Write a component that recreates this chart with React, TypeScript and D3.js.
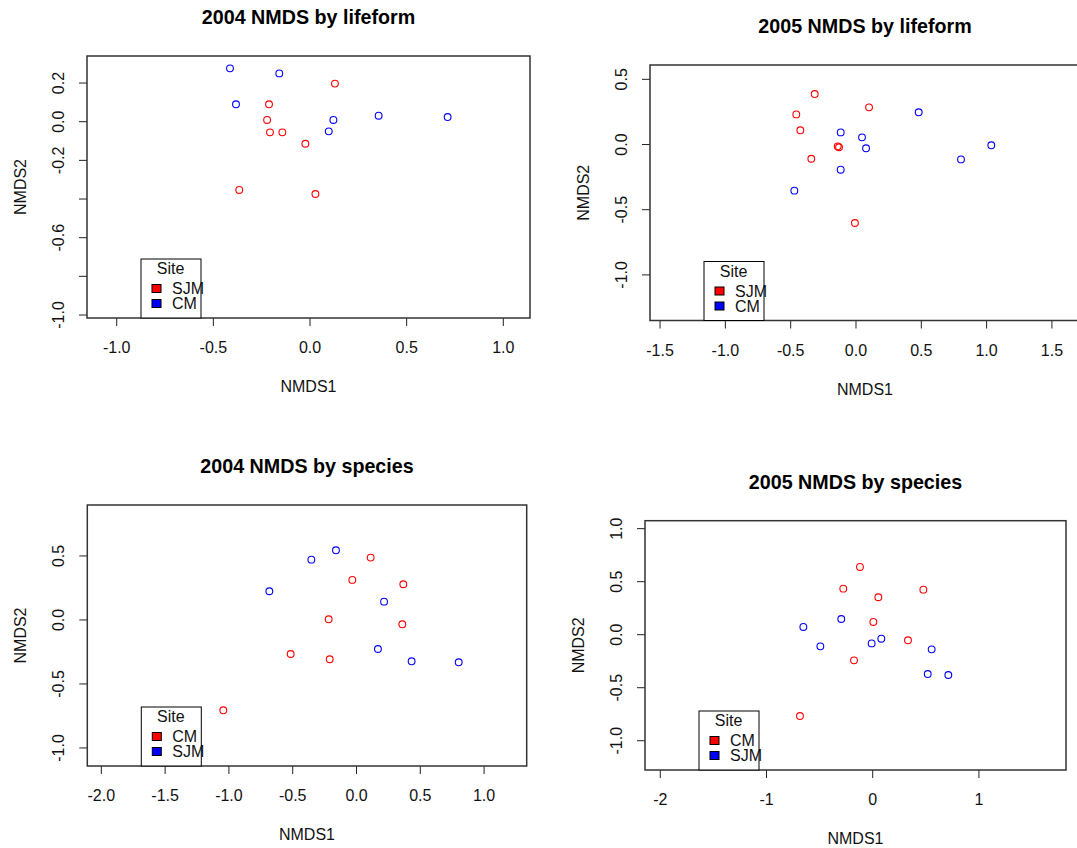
import React, { useEffect, useRef } from 'react';
import * as d3 from 'd3';

// NMDS scores, [NMDS1, NMDS2]
const lifeform2004SJM: [number, number][] = [
  [0.129, 0.197], [-0.212, 0.09], [-0.222, 0.009], [-0.207, -0.055],
  [-0.143, -0.055], [-0.024, -0.114], [-0.366, -0.353], [0.028, -0.374],
];
const lifeform2004CM: [number, number][] = [
  [-0.414, 0.276], [-0.159, 0.25], [-0.383, 0.09], [0.121, 0.009],
  [0.355, 0.031], [0.712, 0.024], [0.097, -0.05],
];
const lifeform2005SJM: [number, number][] = [
  [-0.316, 0.387], [-0.457, 0.231], [0.1, 0.285], [-0.426, 0.109],
  [-0.14, -0.014], [-0.13, -0.021], [-0.342, -0.109], [-0.008, -0.602],
];
const lifeform2005CM: [number, number][] = [
  [-0.117, 0.093], [0.046, 0.055], [0.077, -0.029], [0.48, 0.247],
  [-0.117, -0.193], [-0.472, -0.354], [0.804, -0.114], [1.036, -0.006],
];
const species2004CM: [number, number][] = [
  [0.111, 0.487], [-0.033, 0.313], [0.367, 0.279], [-0.218, 0.005],
  [0.359, -0.034], [-0.516, -0.266], [-0.21, -0.307], [-1.044, -0.706],
];
const species2004SJM: [number, number][] = [
  [-0.161, 0.544], [-0.354, 0.471], [-0.683, 0.224], [0.216, 0.143],
  [0.168, -0.227], [0.432, -0.323], [0.801, -0.331],
];
const species2005CM: [number, number][] = [
  [-0.12, 0.639], [-0.277, 0.434], [0.053, 0.353], [0.477, 0.425],
  [0.006, 0.12], [0.332, -0.053], [-0.176, -0.242], [-0.685, -0.767],
];
const species2005SJM: [number, number][] = [
  [-0.653, 0.073], [-0.296, 0.148], [-0.493, -0.11], [-0.01, -0.082],
  [0.081, -0.038], [0.555, -0.138], [0.518, -0.371], [0.712, -0.38],
];

// axis ticks
const xTicksA = [-1.0, -0.5, 0.0, 0.5, 1.0];
const yTicksA = [-1.0, -0.8, -0.6, -0.4, -0.2, 0.0, 0.2];
const yLabelsA = ['-1.0', '', '-0.6', '', '-0.2', '0.0', '0.2'];
const xTicksB = [-1.5, -1.0, -0.5, 0.0, 0.5, 1.0, 1.5];
const yTicksB = [-1.0, -0.5, 0.0, 0.5];
const xTicksC = [-2.0, -1.5, -1.0, -0.5, 0.0, 0.5, 1.0];
const yTicksC = [-1.0, -0.5, 0.0, 0.5];
const xTicksD = [-2, -1, 0, 1];
const yTicksD = [-1.0, -0.5, 0.0, 0.5, 1.0];

const RED = '#ff0000';
const BLUE = '#0000ff';
const FONT = '"Liberation Sans", Arial, Helvetica, sans-serif';

const panels = [
  {
    title: '2004 NMDS by lifeform',
    box: [87, 56, 530, 318],
    xDomain: [-1.1537, 1.1381], yDomain: [-1.0155, 0.3399],
    xTicks: xTicksA, xLabels: xTicksA.map(d => d.toFixed(1)),
    yTicks: yTicksA, yLabels: yLabelsA,
    groups: [
      { name: 'SJM', color: RED, pts: lifeform2004SJM },
      { name: 'CM', color: BLUE, pts: lifeform2004CM },
    ],
  },
  {
    title: '2005 NMDS by lifeform',
    box: [650, 65, 1080, 320.5],
    xDomain: [-1.577, 1.715], yDomain: [-1.35, 0.61],
    xTicks: xTicksB, xLabels: xTicksB.map(d => d.toFixed(1)),
    yTicks: yTicksB, yLabels: yTicksB.map(d => d.toFixed(1)),
    groups: [
      { name: 'SJM', color: RED, pts: lifeform2005SJM },
      { name: 'CM', color: BLUE, pts: lifeform2005CM },
    ],
  },
  {
    title: '2004 NMDS by species',
    box: [87.3, 505, 526.7, 766],
    xDomain: [-2.11, 1.334], yDomain: [-1.141, 0.898],
    xTicks: xTicksC, xLabels: xTicksC.map(d => d.toFixed(1)),
    yTicks: yTicksC, yLabels: yTicksC.map(d => d.toFixed(1)),
    groups: [
      { name: 'CM', color: RED, pts: species2004CM },
      { name: 'SJM', color: BLUE, pts: species2004SJM },
    ],
  },
  {
    title: '2005 NMDS by species',
    box: [645, 520.7, 1066, 770],
    xDomain: [-2.144, 1.82], yDomain: [-1.276, 1.075],
    xTicks: xTicksD, xLabels: xTicksD.map(d => String(d)),
    yTicks: yTicksD, yLabels: yTicksD.map(d => d.toFixed(1)),
    groups: [
      { name: 'CM', color: RED, pts: species2005CM },
      { name: 'SJM', color: BLUE, pts: species2005SJM },
    ],
  },
];

const App = () => {
  const ref = useRef<SVGSVGElement>(null);

  useEffect(() => {
    if (!ref.current) return;
    const svg = d3.select(ref.current);
    svg.selectAll('*').remove();

    panels.forEach(p => {
      const [l, t, r, b] = p.box;
      const x = d3.scaleLinear().domain(p.xDomain).range([l, r]);
      const y = d3.scaleLinear().domain(p.yDomain).range([b, t]);
      const g = svg.append('g').style('font-family', FONT);
      const cx = (l + r) / 2;

      // title
      g.append('text')
        .attr('x', cx).attr('y', t - 32)
        .attr('text-anchor', 'middle')
        .style('font-size', '19.7px').style('font-weight', 'bold')
        .text(p.title);

      // x axis ticks + labels
      p.xTicks.forEach((v, i) => {
        g.append('line')
          .attr('x1', x(v)).attr('x2', x(v))
          .attr('y1', b).attr('y2', b + 8)
          .attr('stroke', '#222');
        g.append('text')
          .attr('x', x(v)).attr('y', b + 35)
          .attr('text-anchor', 'middle')
          .style('font-size', '16px').attr('fill', '#111')
          .text(p.xLabels[i]);
      });

      // y axis ticks + rotated labels
      p.yTicks.forEach((v, i) => {
        g.append('line')
          .attr('x1', l - 8).attr('x2', l)
          .attr('y1', y(v)).attr('y2', y(v))
          .attr('stroke', '#222');
        if (p.yLabels[i]) {
          g.append('text')
            .attr('transform', `translate(${l - 23},${y(v)}) rotate(-90)`)
            .attr('text-anchor', 'middle')
            .style('font-size', '16px').attr('fill', '#111')
            .text(p.yLabels[i]);
        }
      });

      g.append('text')
        .attr('x', cx).attr('y', b + 74)
        .attr('text-anchor', 'middle')
        .style('font-size', '16px').attr('fill', '#111')
        .text('NMDS1');
      g.append('text')
        .attr('transform', `translate(${l - 61},${(t + b) / 2}) rotate(-90)`)
        .attr('text-anchor', 'middle')
        .style('font-size', '16px').attr('fill', '#111')
        .text('NMDS2');

      // points
      p.groups.forEach(gr => {
        g.selectAll(null)
          .data(gr.pts)
          .enter()
          .append('circle')
          .attr('cx', d => x(d[0]))
          .attr('cy', d => y(d[1]))
          .attr('r', 3.4)
          .attr('fill', 'none')
          .attr('stroke', gr.color)
          .attr('stroke-width', 1.1);
      });

      // plot box
      g.append('rect')
        .attr('x', l).attr('y', t)
        .attr('width', r - l).attr('height', b - t)
        .attr('fill', 'none')
        .attr('stroke', '#333')
        .attr('stroke-width', 1.5);

      // legend
      const lw = 60, lh = 59;
      const lx = l + 54, ly = b - lh;
      const leg = g.append('g');
      leg.append('rect')
        .attr('x', lx).attr('y', ly)
        .attr('width', lw).attr('height', lh)
        .attr('fill', 'white').attr('stroke', '#000');
      leg.append('text')
        .attr('x', lx + 29.5).attr('y', ly + 15)
        .attr('text-anchor', 'middle')
        .style('font-size', '16px').attr('fill', '#111')
        .text('Site');
      p.groups.forEach((gr, i) => {
        const cy = ly + 29.5 + i * 15;
        leg.append('rect')
          .attr('x', lx + 11).attr('y', cy - 4)
          .attr('width', 9).attr('height', 8)
          .attr('fill', gr.color).attr('stroke', '#000');
        leg.append('text')
          .attr('x', lx + 31).attr('y', cy + 5.5)
          .style('font-size', '16px').attr('fill', '#111')
          .text(gr.name);
      });
    });
  }, []);

  return (
    <svg
      ref={ref}
      width={1077}
      height={848}
      style={{ position: 'absolute', left: 0, top: 0, background: 'white' }}
    />
  );
};

export default App;
